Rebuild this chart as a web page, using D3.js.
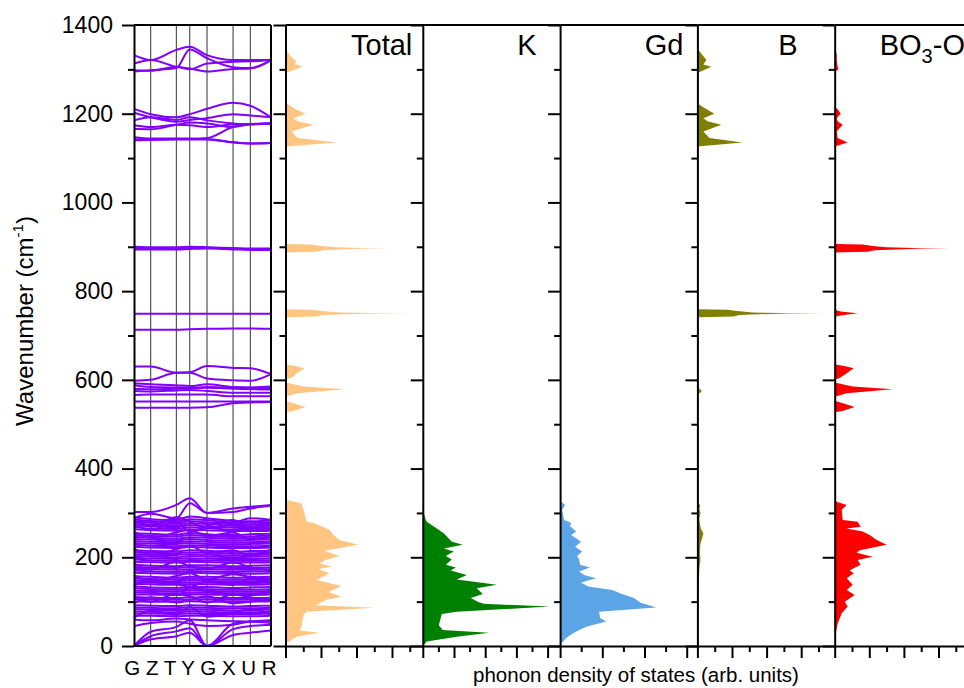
<!DOCTYPE html>
<html>
<head>
<meta charset="utf-8">
<script src="https://cdn.jsdelivr.net/npm/d3@7"></script>
<style>
  body { margin: 0; background: #fff; }
  text { font-family: "Liberation Sans", Arial, sans-serif; }
</style>
</head>
<body>
<svg id="chart" width="964" height="688"></svg>
<script>
// ---- data ----
const kLabels = ["G", "Z", "T", "Y", "G", "X", "U", "R"];
const kDist = [0, 0.122, 0.309, 0.407, 0.533, 0.723, 0.849, 1];

// phonon branches, wavenumber (cm-1) at each high-symmetry point
const highBands = [
  [1332, 1321, 1344, 1351, 1332, 1321, 1321, 1321],
  [1313, 1321, 1306, 1302, 1295, 1301, 1302, 1321],
  [1298, 1297, 1306, 1300, 1313, 1317, 1318, 1321],
  [1295, 1298, 1303, 1345, 1325, 1305, 1303, 1321],
  [1211, 1199, 1192, 1199, 1211, 1225, 1218, 1192],
  [1202, 1192, 1182, 1186, 1190, 1199, 1196, 1192],
  [1185, 1192, 1186, 1192, 1185, 1178, 1176, 1178],
  [1174, 1170, 1175, 1174, 1170, 1176, 1177, 1178],
  [1166, 1165, 1175, 1180, 1178, 1170, 1176, 1178],
  [1147, 1144, 1144, 1144, 1143, 1136, 1133, 1134],
  [1142, 1142, 1143, 1143, 1145, 1170, 1176, 1178],
  [1140, 1141, 1142, 1142, 1142, 1135, 1133, 1134],
  [900, 899, 899, 900, 899, 897, 896, 896],
  [897, 897, 897, 898, 898, 896, 895, 895],
  [894, 894, 894, 895, 896, 894, 893, 893],
  [749, 749, 749, 749, 749, 749, 749, 749],
  [713, 713, 713, 714, 715, 716, 716, 715]
];
const midBands = [
  [630, 630, 616, 617, 631, 627, 626, 613],
  [598, 600, 616, 616, 603, 599, 598, 613],
  [592, 590, 588, 586, 590, 584, 583, 585],
  [588, 584, 583, 582, 584, 582, 582, 581],
  [580, 579, 580, 581, 582, 580, 579, 578],
  [575, 574, 576, 577, 575, 571, 571, 571],
  [566, 567, 567, 567, 567, 563, 563, 563],
  [551, 551, 551, 551, 551, 551, 551, 551],
  [537, 537, 537, 537, 538, 547, 549, 550]
];
const lowBands = [
  [302, 302, 318, 333, 300, 302, 310, 316],
  [288, 298, 288, 322, 300, 310, 314, 318],
  [290, 286, 284, 292, 288, 282, 281, 283],
  [286, 282, 280, 286, 284, 278, 278, 279],
  [281, 278, 276, 281, 279, 275, 274, 276],
  [277, 274, 272, 276, 275, 271, 270, 272],
  [272, 270, 268, 272, 270, 267, 266, 268],
  [268, 265, 264, 267, 266, 262, 263, 264],
  [263, 261, 260, 262, 261, 259, 259, 260],
  [254, 253, 251, 255, 252, 250, 252, 253],
  [250, 248, 247, 250, 248, 246, 247, 249],
  [246, 244, 242, 245, 244, 242, 243, 244],
  [241, 240, 238, 241, 239, 237, 239, 240],
  [237, 235, 234, 236, 235, 233, 234, 235],
  [232, 231, 230, 232, 230, 229, 230, 231],
  [228, 226, 225, 227, 226, 225, 225, 226],
  [224, 222, 221, 223, 222, 221, 221, 222],
  [216, 214, 213, 216, 215, 212, 214, 215],
  [212, 210, 209, 211, 211, 208, 209, 210],
  [207, 206, 205, 207, 206, 204, 205, 206],
  [203, 202, 200, 203, 202, 200, 201, 202],
  [199, 197, 196, 198, 197, 196, 196, 197],
  [195, 193, 192, 194, 193, 192, 192, 193],
  [190, 189, 188, 190, 189, 188, 188, 189],
  [183, 181, 180, 182, 182, 180, 181, 182],
  [178, 177, 176, 178, 177, 176, 176, 177],
  [174, 173, 172, 173, 173, 172, 172, 173],
  [170, 168, 167, 169, 168, 167, 168, 168],
  [165, 164, 163, 165, 164, 163, 163, 164],
  [157, 156, 154, 156, 156, 154, 155, 156],
  [153, 151, 150, 152, 151, 150, 150, 151],
  [148, 147, 146, 148, 147, 146, 146, 147],
  [144, 143, 142, 143, 143, 142, 142, 143],
  [140, 139, 138, 139, 139, 138, 138, 139],
  [134, 132, 131, 133, 133, 131, 132, 133],
  [130, 128, 127, 129, 128, 127, 127, 128],
  [125, 124, 123, 125, 124, 123, 123, 124],
  [121, 120, 119, 120, 120, 119, 119, 120],
  [116, 116, 115, 116, 116, 115, 115, 116],
  [110, 109, 108, 110, 109, 108, 108, 109],
  [106, 105, 104, 105, 105, 104, 104, 105],
  [101, 100, 100, 101, 100, 100, 100, 101],
  [92, 91, 90, 92, 91, 89, 90, 91],
  [87, 86, 85, 87, 86, 85, 85, 86],
  [83, 82, 81, 82, 82, 80, 81, 82],
  [78, 77, 76, 78, 77, 76, 76, 77],
  [73, 73, 72, 73, 72, 72, 72, 73],
  [68, 68, 67, 68, 68, 67, 67, 68],
  [96, 110, 98, 104, 112, 96, 100, 106],
  [113, 100, 118, 112, 98, 116, 110, 102],
  [136, 150, 140, 134, 146, 138, 152, 140],
  [160, 146, 158, 164, 150, 162, 156, 150],
  [186, 172, 190, 180, 174, 188, 178, 170],
  [220, 205, 218, 226, 210, 216, 204, 218],
  [258, 244, 256, 262, 248, 256, 240, 250],
  [275, 262, 280, 258, 270, 284, 266, 274],
  [64, 80, 70, 88, 66, 74, 84, 70],
  [284, 270, 290, 280, 266, 276, 288, 284],
  [60, 58, 62, 60, 58, 56, 55, 57],
  [45, 52, 55, 50, 45, 48, 55, 52],
  [0, 32, 43, 58, 0, 50, 55, 58],
  [0, 22, 33, 40, 0, 38, 45, 48],
  [0, 15, 22, 30, 0, 25, 30, 35]
];

// phonon DOS, [wavenumber, density (arb. units)]
const dosTotal = [
  [0, 0], [6, 1], [21, 11], [30, 34], [35, 14], [43, 16], [70, 18], [77, 21], [86, 89], [92, 30],
  [104, 41], [111, 56], [122, 43], [135, 56], [149, 31], [164, 44], [173, 33], [180, 46], [186, 34],
  [194, 40], [203, 54], [215, 39], [228, 73], [239, 54], [250, 48], [262, 44], [277, 29], [280, 21],
  [300, 19], [322, 16], [329, 1], [332, 0],
  [527, 0], [530, 8], [539, 20], [546, 10], [553, 0],
  [562, 0], [570, 12], [579, 59], [585, 18], [594, 0],
  [600, 0], [607, 8], [615, 11], [626, 19], [630, 12], [635, 0],
  [741, 0], [743, 30], [746, 38], [748, 60], [749.5, 90], [750, 127], [750.5, 85], [752, 55], [755, 36], [758, 26], [759, 0],
  [887, 0], [889, 30], [892, 38], [894, 55], [896, 80], [897, 108], [897.5, 75], [899, 50], [902, 36], [905, 25], [906, 0],
  [1126, 0], [1135, 51], [1145, 12], [1160, 6], [1175, 28], [1183, 12], [1190, 8], [1200, 20], [1210, 10], [1218, 5], [1225, 0],
  [1292, 0], [1306, 17], [1312, 9], [1317, 11], [1330, 5], [1347, 0]
];
const dosK = [
  [0, 0], [2, 1], [10, 4], [21, 34], [30, 66], [36, 20], [47, 16], [72, 19], [77, 34], [89, 127],
  [95, 61], [100, 55], [108, 48], [117, 60], [130, 54], [138, 74], [150, 34], [160, 44], [170, 28],
  [177, 33], [183, 23], [195, 29], [203, 23], [213, 31], [220, 21], [228, 40], [235, 29], [254, 21],
  [265, 14], [280, 4], [284, 3], [300, 1], [322, 1], [325, 0]
];
const dosGd = [
  [4, 0], [10, 3], [20, 7], [29, 13], [37, 20], [44, 27], [55, 46], [63, 40], [77, 39], [87, 96],
  [98, 80], [108, 74], [117, 62], [126, 52], [134, 28], [143, 21], [153, 36], [160, 24], [168, 19],
  [177, 30], [183, 20], [195, 19], [203, 17], [213, 22], [224, 15], [235, 21], [250, 11], [258, 16],
  [270, 10], [278, 11], [284, 4], [307, 2], [318, 5], [325, 1], [328, 0]
];
const dosB = [
  [85, 0], [88, 1], [110, 1], [130, 1], [150, 1.5], [175, 2], [195, 3], [212, 2.5], [230, 3], [245, 5],
  [254, 6], [262, 4], [270, 3], [285, 2], [300, 3], [310, 2], [318, 3], [322, 0],
  [540, 0], [545, 2], [550, 0], [565, 0], [570, 2], [575, 4.5], [580, 2], [590, 0], [620, 0], [624, 1.5], [630, 0],
  [741, 0], [743, 36], [746, 42], [748, 62], [749.5, 90], [750, 126], [750.5, 85], [752, 55], [755, 40], [758, 30], [759, 0],
  [1126, 0], [1135, 45], [1145, 12], [1160, 6], [1175, 24], [1183, 10], [1190, 6], [1200, 17], [1212, 8], [1223, 0],
  [1292, 0], [1306, 14], [1311, 6], [1321, 9], [1335, 4], [1347, 0]
];
const dosBO3O = [
  [25, 0], [29, 1], [51, 3], [74, 7], [89, 13], [100, 10], [115, 20], [126, 12], [138, 18], [153, 12],
  [164, 19], [171, 15], [183, 26], [194, 23], [201, 38], [210, 22], [216, 25], [228, 52], [239, 42],
  [250, 35], [258, 28], [265, 12], [269, 26], [280, 23], [284, 8], [307, 7], [318, 12], [325, 2], [328, 0],
  [527, 0], [530, 8], [539, 20], [546, 10], [553, 0],
  [562, 0], [570, 12], [579, 58], [585, 18], [594, 0],
  [600, 0], [604, 5], [615, 12], [626, 19], [630, 12], [635, 0],
  [742, 0], [745, 6], [750, 23], [754, 6], [758, 0],
  [887, 0], [889, 33], [892, 40], [894, 62], [896, 88], [897, 115], [897.5, 80], [899, 52], [902, 38], [905, 28], [906, 0],
  [1126, 0], [1135, 13], [1145, 3], [1160, 2], [1175, 8], [1183, 3], [1190, 2], [1200, 6], [1210, 3], [1216, 0],
  [1296, 0], [1300, 4], [1306, 3], [1320, 2], [1335, 2], [1343, 0]
];

const panelNames = ["Total", "K", "Gd", "B", "BO3-O"];
const panelData = [dosTotal, dosK, dosGd, dosB, dosBO3O];
const panelTickStep = [17.75, 15.6, 21.1, 17.3, 17.3];   // arb. units per minor tick
const yMajor = [0, 200, 400, 600, 800, 1000, 1200, 1400];
const yMinor = [100, 300, 500, 700, 900, 1100, 1300];

// ---- layout / style ----
const panelColors = ["#ffc581", "#008000", "#5ba5e6", "#808000", "#ff0000"];
const labelPos = [
  { anchor: "end", dx: -10.5 },
  { anchor: "end", dx: -23.5 },
  { anchor: "end", dx: -14 },
  { anchor: "end", dx: -37 },
  { anchor: "start", dx: 45 }
];
const yTop = 25, yBot = 646;
const bandX0 = 134, bandX1 = 271;
const dosX0 = 285.5, dosW = 137.3;
const dosMax = 137.3;
const bandColor = "#8000ff";

const svg = d3.select("#chart");
const y = d3.scaleLinear().domain([0, 1400]).range([yBot, yTop]);

function styleAxis(g) {
  g.attr("font-family", '"Liberation Sans", Arial, sans-serif');
  g.selectAll("path.domain").attr("stroke", "#000").attr("stroke-width", 2);
  g.selectAll(".tick line").attr("stroke", "#000").attr("stroke-width", 2);
}

function leftAxis(g, x, labels) {
  const major = g.append("g").attr("transform", `translate(${x},0)`)
    .call(d3.axisLeft(y).tickValues(yMajor).tickSize(12).tickSizeOuter(0).tickPadding(9)
      .tickFormat(labels ? d3.format("d") : ""));
  major.attr("font-size", 23);
  major.selectAll(".tick text").attr("fill", "#000");
  styleAxis(major);
  const minor = g.append("g").attr("transform", `translate(${x},0)`)
    .call(d3.axisLeft(y).tickValues(yMinor).tickSize(6).tickFormat(""));
  minor.select("path.domain").remove();
  styleAxis(minor);
}

function hline(g, x1, x2, yy) {
  g.append("line").attr("x1", x1).attr("x2", x2).attr("y1", yy).attr("y2", yy)
    .attr("stroke", "#000").attr("stroke-width", 2);
}

// ---- band structure panel ----
const bx = d3.scaleLinear().domain([0, 1]).range([bandX0, bandX1]);
const gBand = svg.append("g");

gBand.selectAll("line.kline")
  .data(kDist.slice(1, -1))
  .join("line")
  .attr("class", "kline")
  .attr("x1", d => bx(d)).attr("x2", d => bx(d))
  .attr("y1", yTop).attr("y2", yBot)
  .attr("stroke", "#333").attr("stroke-width", 1);

const bandLine = d3.line()
  .x((d, i) => bx(kDist[i]))
  .y(d => y(d))
  .curve(d3.curveMonotoneX);

gBand.selectAll("path.band")
  .data(highBands.concat(midBands, lowBands))
  .join("path")
  .attr("class", "band")
  .attr("d", bandLine)
  .attr("fill", "none")
  .attr("stroke", bandColor)
  .attr("stroke-width", 2)
  .attr("stroke-linejoin", "round");

hline(gBand, bandX0, bandX1, yTop);
hline(gBand, bandX0, bandX1, yBot);
gBand.append("line").attr("x1", bandX1).attr("x2", bandX1).attr("y1", yTop).attr("y2", yBot)
  .attr("stroke", "#000").attr("stroke-width", 2);
leftAxis(gBand, bandX0, true);

gBand.append("text")
  .attr("x", (bandX0 + bandX1) / 2 - 2)
  .attr("y", 675)
  .attr("text-anchor", "middle")
  .attr("font-size", 20.5)
  .text(kLabels.join(" "));

// y title
const yTitle = svg.append("text")
  .attr("transform", "translate(33,321) rotate(-90)")
  .attr("text-anchor", "middle")
  .attr("font-size", 24);
yTitle.append("tspan").text("Wavenumber (cm");
yTitle.append("tspan").attr("font-size", 15).attr("dy", -10).text("-1");
yTitle.append("tspan").attr("dy", 10).text(")");

// ---- DOS panels ----
panelNames.forEach((name, i) => {
  const left = dosX0 + i * dosW;
  const x = d3.scaleLinear().domain([0, dosMax]).range([left, left + dosW]);
  const g = svg.append("g");

  const area = d3.area()
    .y(d => y(d[0]))
    .x0(x(0))
    .x1(d => x(d[1]));

  g.append("path")
    .datum(panelData[i])
    .attr("d", area)
    .attr("fill", panelColors[i])
    .attr("stroke", "none");

  hline(g, left, left + dosW, yTop);

  const step = panelTickStep[i];
  const ticks = d3.range(0, dosMax, step);
  const bMajor = g.append("g").attr("transform", `translate(0,${yBot})`)
    .call(d3.axisBottom(x).tickValues(ticks.filter((d, j) => j % 2 === 0)).tickSize(12).tickSizeOuter(0).tickFormat(""));
  styleAxis(bMajor);
  const bMinor = g.append("g").attr("transform", `translate(0,${yBot})`)
    .call(d3.axisBottom(x).tickValues(ticks.filter((d, j) => j % 2 === 1)).tickSize(6).tickFormat(""));
  bMinor.select("path.domain").remove();
  styleAxis(bMinor);

  leftAxis(g, left, false);

  // panel label, digits as subscripts
  const lp = labelPos[i];
  const t = g.append("text")
    .attr("x", (lp.anchor === "end" ? left + dosW : left) + lp.dx)
    .attr("y", 63)
    .attr("text-anchor", lp.anchor)
    .attr("font-size", 29);
  name.split(/(\d+)/).filter(s => s.length).forEach(part => {
    if (/^\d+$/.test(part)) {
      t.append("tspan").attr("font-size", 20).attr("dy", 8).text(part);
    } else {
      t.append("tspan").attr("dy", t.selectAll("tspan").size() ? -8 : 0).text(part);
    }
  });
});

// x title
svg.append("text")
  .attr("x", 636)
  .attr("y", 682)
  .attr("text-anchor", "middle")
  .attr("font-size", 20.5)
  .text("phonon density of states (arb. units)");
</script>
</body>
</html>
